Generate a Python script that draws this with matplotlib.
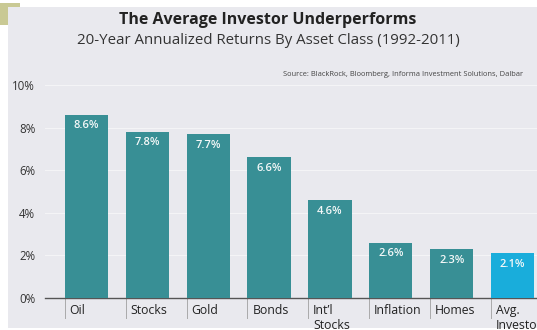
import matplotlib
matplotlib.use("Agg")
import matplotlib.pyplot as plt
from matplotlib.patches import Rectangle

categories = ["Oil", "Stocks", "Gold", "Bonds", "Int\u2019l\nStocks", "Inflation", "Homes", "Avg.\nInvestor"]
values = [8.6, 7.8, 7.7, 6.6, 4.6, 2.6, 2.3, 2.1]
value_labels = ["8.6%", "7.8%", "7.7%", "6.6%", "4.6%", "2.6%", "2.3%", "2.1%"]
yticks = [0, 2, 4, 6, 8, 10]
ytick_labels = ["0%", "2%", "4%", "6%", "8%", "10%"]

W, H = 537, 330
plt.rcParams['font.family'] = ['Open Sans', 'DejaVu Sans']
fig = plt.figure(figsize=(W / 100, H / 100), dpi=100)
fig.patch.set_facecolor("white")

# background panel and olive corner
fig.patches.append(Rectangle((0, 1 - 25 / H), 20 / W, 22 / H, transform=fig.transFigure,
                             facecolor="#c9c994", edgecolor="none", zorder=0))
fig.patches.append(Rectangle((8 / W, 2 / H), 1 - 8 / W, 1 - 9 / H, transform=fig.transFigure,
                             facecolor="#e9e9ee", edgecolor="none", zorder=1))

ax_left, ax_right = 45, 537
ax_bottom, ax_top = 298, 85
ax = fig.add_axes([ax_left / W, (H - ax_bottom) / H, (ax_right - ax_left) / W, (ax_bottom - ax_top) / H])
ax.set_facecolor("none")
ax.set_zorder(2)

x = list(range(len(categories)))
bw = 0.71
colors = ["#388f95"] * (len(categories) - 1) + ["#19addb"]
ax.bar(x, values, width=bw, color=colors, zorder=3)
for xi, v, lab in zip(x, values, value_labels):
    ax.annotate(lab, (xi, v), xytext=(0, -4), textcoords="offset points",
                ha="center", va="top", color="#f4f8f8", fontsize=8, fontweight="semibold", zorder=4)

ax.set_xlim(-0.68, 7.40)
ax.set_ylim(0, 10)
ax.set_yticks(yticks)
ax.set_yticklabels(ytick_labels, fontsize=8.3, color="#333333")
ax.tick_params(axis="y", length=0, pad=7)
ax.set_xticks([])
for yt in yticks[1:]:
    ax.axhline(yt, color="#f4f4f6", lw=0.8, zorder=1)
for s in ["top", "right", "left"]:
    ax.spines[s].set_visible(False)
ax.spines["bottom"].set_color("#555555")
ax.spines["bottom"].set_linewidth(1.0)

# category separators and labels
trans = ax.get_xaxis_transform()
for xi, cat in zip(x, categories):
    xl = xi - bw / 2
    ax.plot([xl, xl], [0, -20 / 213], transform=trans, color="#aaaaaa", lw=0.7, clip_on=False)
    ax.annotate(cat, (xl, 0), xycoords=trans, xytext=(3.5, -4.5), textcoords="offset points",
                ha="left", va="top", fontsize=8.8, color="#222222", linespacing=1.2,
                annotation_clip=False)

fig.text(268 / W, 1 - 20 / H, "The Average Investor Underperforms", ha="center", va="center",
         fontsize=11.5, fontweight="bold", color="#222222", zorder=5)
fig.text(268 / W, 1 - 41 / H, "20-Year Annualized Returns By Asset Class (1992-2011)", ha="center",
         va="center", fontsize=10.8, color="#333333", zorder=5)
fig.text(283 / W, 1 - 75 / H, "Source: BlackRock, Bloomberg, Informa Investment Solutions, Dalbar",
         ha="left", va="center", fontsize=5.4, color="#444444", zorder=5)

fig.savefig("out.png", dpi=100)
